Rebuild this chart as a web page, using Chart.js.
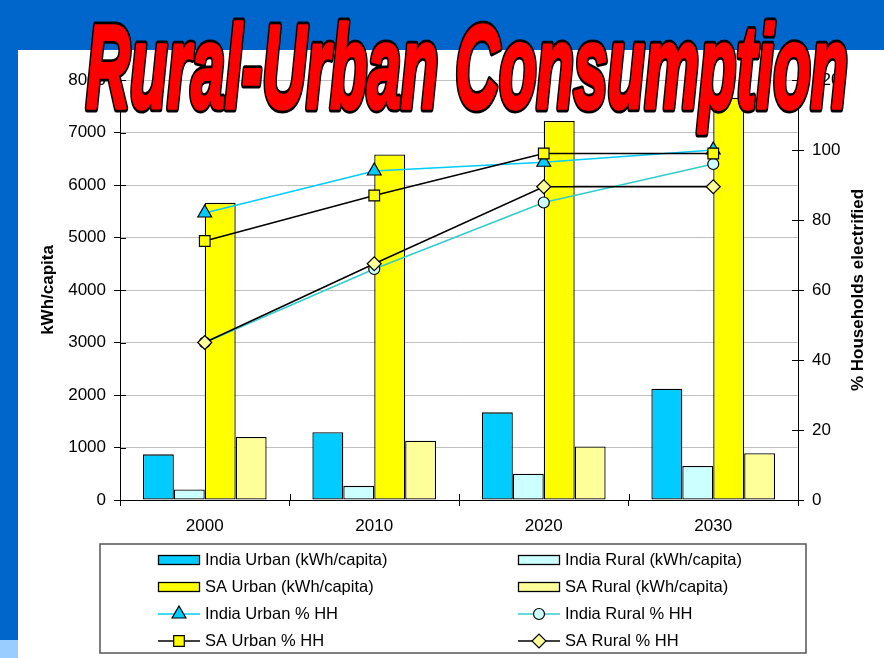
<!DOCTYPE html>
<html>
<head>
<meta charset="utf-8">
<script src="https://cdn.jsdelivr.net/npm/chart.js@4.4.1/dist/chart.umd.min.js"></script>
<style>
  body { margin: 0; background: #0066CC; width: 884px; height: 658px; overflow: hidden; position: relative; }
  #panel { position: absolute; left: 18px; top: 50px; width: 866px; height: 608px; background: #fff; }
  #corner { position: absolute; left: 0; top: 640px; width: 18px; height: 18px; background: #99CCFF; }
  #wrap { position: absolute; left: 0; top: 0; width: 884px; height: 658px; }
  #title { position: absolute; left: 0; top: 0; pointer-events: none; }
  #title text { font-family: 'Liberation Sans Narrow', 'Liberation Sans', Arial, sans-serif;
                font-weight: bold; font-style: italic; font-size: 118px; stroke-linejoin: round; }
</style>
</head>
<body>
<div id="panel"></div>
<div id="corner"></div>
<div id="wrap"><canvas id="chart"></canvas></div>
<svg id="title" width="884" height="658">
  <!-- black outline layer, then thickened red letters on top -->
  <text x="86" y="108" textLength="762" lengthAdjust="spacingAndGlyphs"
        fill="#000" stroke="#000" stroke-width="9" aria-hidden="true">Rural-Urban Consumption</text>
  <text x="86" y="108" textLength="762" lengthAdjust="spacingAndGlyphs"
        fill="#FF0000" stroke="#FF0000" stroke-width="3.5">Rural-Urban Consumption</text>
</svg>
<script>
// ================= DATA =================
const years = ["2000", "2010", "2020", "2030"];

// bars, kWh/capita (left axis)
const indiaUrbanKwh = [870, 1290, 1670, 2120];
const indiaRuralKwh = [200, 270, 500, 650];
const saUrbanKwh = [5660, 6580, 7220, 7660];
const saRuralKwh = [1200, 1130, 1020, 890];

// lines, % households electrified (right axis)
const indiaUrbanHH = [82, 94, 96.5, 100];
const indiaRuralHH = [45, 66, 85, 96];
const saUrbanHH = [74, 87, 99, 99];
const saRuralHH = [45, 67.5, 89.5, 89.5];

// axis ranges
const kwhMax = 8000, kwhStep = 1000;
const hhMax = 120, hhStep = 20;

Chart.defaults.font.family = "'Liberation Sans', Arial, sans-serif";
Chart.defaults.font.size = 17;
Chart.defaults.color = "#000";

function bar(label, data, color) {
  return {
    type: "bar", label, data, yAxisID: "y", order: 1,
    backgroundColor: color, borderColor: "#000", borderWidth: 1.3, borderSkipped: false,
    categoryPercentage: 0.73, barPercentage: 1.0
  };
}
// lower order = drawn on top (SA series sit over the India ones)
function line(label, data, color, style, fill, radius, order) {
  return {
    type: "line", label, data, yAxisID: "y2", order,
    borderColor: color, borderWidth: 1.5, tension: 0,
    pointStyle: style, pointRadius: radius, pointBackgroundColor: fill,
    pointBorderColor: "#000", pointBorderWidth: 1.2
  };
}

// ================= PLUGINS =================
// small tick marks drawn inside the plot, like the original
const innerTicks = {
  id: "innerTicks",
  afterDraw(chart) {
    const { ctx, chartArea, scales } = chart;
    ctx.save();
    ctx.strokeStyle = "#000";
    ctx.lineWidth = 1;
    ctx.beginPath();
    scales.y.ticks.forEach(t => {
      const py = Math.round(scales.y.getPixelForValue(t.value)) + 0.5;
      ctx.moveTo(chartArea.left, py); ctx.lineTo(chartArea.left + 6, py);
    });
    scales.y2.ticks.forEach(t => {
      const py = Math.round(scales.y2.getPixelForValue(t.value)) + 0.5;
      ctx.moveTo(chartArea.right - 6, py); ctx.lineTo(chartArea.right, py);
    });
    const n = years.length;
    for (let i = 0; i <= n; i++) {
      const px = Math.round(chartArea.left + i * (chartArea.right - chartArea.left) / n) + 0.5;
      ctx.moveTo(px, chartArea.bottom - 6); ctx.lineTo(px, chartArea.bottom);
    }
    ctx.stroke();
    ctx.restore();
  }
};

// right axis title reads bottom-to-top
const rightTitle = {
  id: "rightTitle",
  afterDraw(chart) {
    const { ctx, chartArea } = chart;
    const s = chart.scales.y2;
    ctx.save();
    ctx.translate(s.right - 16, (chartArea.top + chartArea.bottom) / 2);
    ctx.rotate(-Math.PI / 2);
    ctx.font = "bold 17px 'Liberation Sans', Arial, sans-serif";
    ctx.fillStyle = "#000";
    ctx.textAlign = "center";
    ctx.textBaseline = "middle";
    ctx.fillText("% Households electrified", 0, 0);
    ctx.restore();
  }
};

// boxed two-column legend
const boxLegend = {
  id: "boxLegend",
  afterDraw(chart) {
    const { ctx, chartArea } = chart;
    const left = chartArea.left - 20, right = chartArea.right + 8;
    const top = chartArea.bottom + 44, bottom = chart.height - 5;
    ctx.save();
    ctx.strokeStyle = "#555";
    ctx.lineWidth = 1.5;
    ctx.strokeRect(left, top, right - left, bottom - top);

    const colX = [158, 518];
    const rowY0 = 560, rowStep = 27;
    ctx.font = "16.5px 'Liberation Sans', Arial, sans-serif";
    ctx.textBaseline = "middle";
    ctx.textAlign = "left";

    chart.data.datasets.forEach((ds, i) => {
      const x = colX[i % 2];
      const y = rowY0 + Math.floor(i / 2) * rowStep;
      if (ds.type === "bar") {
        ctx.fillStyle = ds.backgroundColor;
        ctx.fillRect(x, y - 4.5, 42, 9);
        ctx.strokeStyle = "#000";
        ctx.lineWidth = 1.3;
        ctx.strokeRect(x + 0.5, y - 4.5, 41, 9);
      } else {
        ctx.strokeStyle = ds.borderColor;
        ctx.lineWidth = 1.5;
        ctx.beginPath();
        ctx.moveTo(x, y); ctx.lineTo(x + 42, y);
        ctx.stroke();
        ctx.fillStyle = ds.pointBackgroundColor;
        ctx.strokeStyle = "#000";
        ctx.lineWidth = 1.2;
        Chart.helpers.drawPoint(ctx, {
          pointStyle: ds.pointStyle, radius: ds.pointRadius, rotation: 0, borderWidth: 1.2
        }, x + 21, y);
      }
      ctx.fillStyle = "#000";
      ctx.fillText(ds.label, x + 47, y);
    });
    ctx.restore();
  }
};

// ================= CHART =================
new Chart(document.getElementById("chart"), {
  data: {
    labels: years,
    datasets: [
      bar("India Urban (kWh/capita)", indiaUrbanKwh, "#00CCFF"),
      bar("India Rural (kWh/capita)", indiaRuralKwh, "#CCFFFF"),
      bar("SA Urban (kWh/capita)", saUrbanKwh, "#FFFF00"),
      bar("SA Rural (kWh/capita)", saRuralKwh, "#FFFF99"),
      line("India Urban % HH", indiaUrbanHH, "#00CCFF", "triangle", "#00CCFF", 8, 0.4),
      line("India Rural % HH", indiaRuralHH, "#33CCCC", "circle", "#CCFFFF", 5.5, 0.3),
      line("SA Urban % HH", saUrbanHH, "#000000", "rect", "#FFFF00", 7.5, 0.2),
      line("SA Rural % HH", saRuralHH, "#000000", "rectRot", "#FFFF99", 7, 0.1)
    ]
  },
  options: {
    responsive: true,
    maintainAspectRatio: false,
    animation: false,
    layout: { padding: { left: 20, right: 10, top: 80, bottom: 118 } },
    plugins: { legend: { display: false }, tooltip: { enabled: false } },
    scales: {
      x: {
        type: "category",
        offset: true,
        grid: { drawOnChartArea: false, offset: true, tickLength: 6, tickColor: "#000" },
        border: { color: "#000" },
        ticks: { padding: 10 },
        afterFit(s) { s.height = 40; }
      },
      y: {
        position: "left",
        min: 0, max: kwhMax,
        ticks: { stepSize: kwhStep, padding: 8, callback: v => String(v) },
        grid: { color: "#c0c0c0", tickColor: "#000", tickLength: 6 },
        border: { color: "#000" },
        title: { display: true, text: "kWh/capita", font: { weight: "bold", size: 17 }, padding: { top: 18, bottom: 0 } },
        afterFit(s) { s.width = 100; }
      },
      y2: {
        position: "right",
        min: 0, max: hhMax,
        ticks: { stepSize: hhStep, padding: 8, callback: v => String(v) },
        grid: { drawOnChartArea: false, tickColor: "#000", tickLength: 6 },
        border: { color: "#000" },
        afterFit(s) { s.width = 76; }
      }
    }
  },
  plugins: [innerTicks, rightTitle, boxLegend]
});
</script>
</body>
</html>
